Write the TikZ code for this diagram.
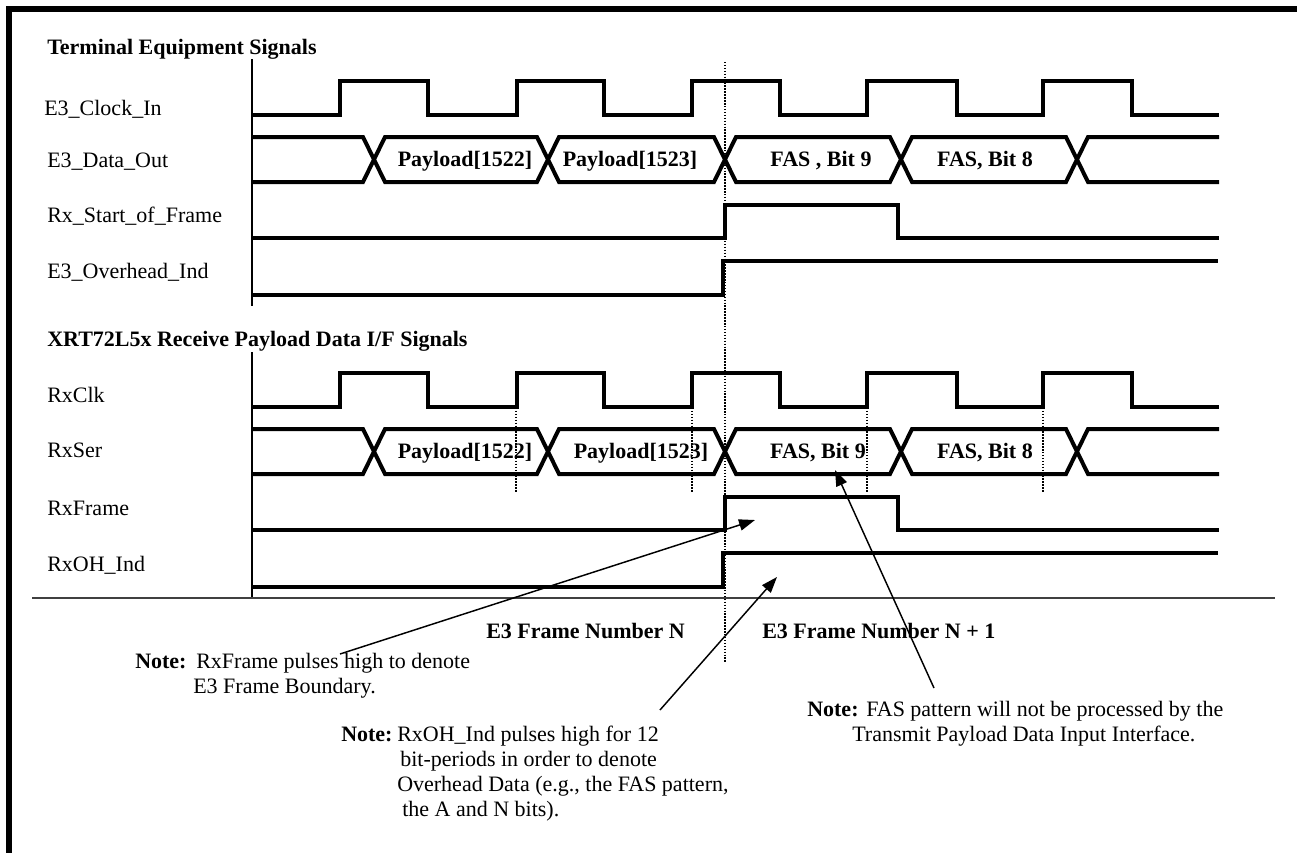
\documentclass[tikz,border=0pt]{standalone}
\usepackage{fontspec}
\setmainfont{Liberation Serif}
\usetikzlibrary{arrows.meta}
\newcommand\myfs{\fontsize{16.5pt}{19pt}\selectfont}
\newcommand\drawwaves{%
  \draw[wave] (253,115) -- (340,115) -- (340,81) -- (428,81) -- (428,115) -- (517,115) -- (517,81) -- (604,81) -- (604,115) -- (692,115) -- (692,81) -- (780,81) -- (780,115) -- (867,115) -- (867,81) -- (957,81) -- (957,115) -- (1043,115) -- (1043,81) -- (1132,81) -- (1132,115) -- (1219,115);
  \draw[wave] (253,137) -- (363,137) -- (385,182) -- (537,182) -- (559,137) -- (714,137) -- (736,182) -- (890,182) -- (912,137) -- (1066,137) -- (1088,182) -- (1219,182);
  \draw[wave] (253,182) -- (363,182) -- (385,137) -- (537,137) -- (559,182) -- (714,182) -- (736,137) -- (890,137) -- (912,182) -- (1066,182) -- (1088,137) -- (1219,137);
  \draw[wave] (253,238) -- (725,238) -- (725,205) -- (898,205) -- (898,238) -- (1219,238);
  \draw[wave] (253,295) -- (723,295) -- (723,261) -- (1218,261);
}
\begin{document}
\begin{tikzpicture}[x=0.75pt,y=-0.75pt,
  wave/.style={line width=3pt, line join=miter},
  axisline/.style={line width=1.1pt},
  lbl/.style={anchor=base west, inner sep=0pt, font=\myfs},
  blbl/.style={anchor=base west, inner sep=0pt, font=\myfs\bfseries},
  dlbl/.style={anchor=base, inner sep=0pt, font=\myfs\bfseries},
  pointer/.style={line width=1.1pt, -{Triangle[length=12pt,width=8.5pt]}},
  dotline/.style={line width=1.1pt, dash pattern=on 1.1pt off 1.1pt}]
\useasboundingbox (0,0) rectangle (1297,853);
% frame
\draw[line width=4.5pt] (9,853) -- (9,9) -- (1297,9);
% axes
\draw[axisline] (252,59) -- (252,306);
\draw[axisline] (252,352) -- (252,598);
\draw[line width=1.3pt, black!75] (32,598) -- (1275,598);
% headings
\node[blbl] (h1) at (47,54) {Terminal Equipment Signals};
\node[blbl] (h2) at (47,346) {XRT72L5x Receive Payload Data I/F Signals};
% signal names
\node[lbl] (n1) at (44,115) {E3\_Clock\_In};
\node[lbl] (n2) at (47,167) {E3\_Data\_Out};
\node[lbl] (n3) at (47,222) {Rx\_Start\_of\_Frame};
\node[lbl] (n4) at (47,278) {E3\_Overhead\_Ind};
\node[lbl] (n5) at (47,402) {RxClk};
\node[lbl] (n6) at (47,457) {RxSer};
\node[lbl] (n7) at (47,515) {RxFrame};
\node[lbl] (n8) at (47,571) {RxOH\_Ind};
% waveforms
\drawwaves
\begin{scope}[shift={(0,292)}]
\drawwaves
\end{scope}
% bus labels
\node[dlbl] (a1) at (465,166) {Payload[1522]};
\node[dlbl] (a2) at (630,166) {Payload[1523]};
\node[dlbl] (a3) at (821,166) {FAS , Bit 9};
\node[dlbl] (a4) at (985,166) {FAS, Bit 8};
\node[dlbl] (b1) at (465,458) {Payload[1522]};
\node[dlbl] (b2) at (641,458) {Payload[1523]};
\node[dlbl] (b3) at (818,458) {FAS, Bit 9};
\node[dlbl] (b4) at (985,458) {FAS, Bit 8};
% dotted lines
\draw[dotline] (725,62) -- (725,663);
\foreach \xx in {516,692,867,1043} \draw[dotline] (\xx,408) -- (\xx,493);
% frame numbers
\node[blbl] (f1) at (486,638) {E3 Frame Number N};
\node[blbl] (f2) at (762,638) {E3 Frame Number N + 1};
% notes
\node[blbl] (k1) at (135,668) {Note:};
\node[lbl] (k1a) at (196,668) {RxFrame pulses high to denote};
\node[lbl] (k1b) at (193,693) {E3 Frame Boundary.};
\node[blbl] (k2) at (341,741) {Note:};
\node[lbl] (k2a) at (397,741) {RxOH\_Ind pulses high for 12};
\node[lbl] (k2b) at (400,766) {bit-periods in order to denote};
\node[lbl] (k2c) at (397,791) {Overhead Data (e.g., the FAS pattern,};
\node[lbl] (k2d) at (402,816) {the A and N bits).};
\node[blbl] (k3) at (807,716) {Note:};
\node[lbl] (k3a) at (866,716) {FAS pattern will not be processed by the};
\node[lbl] (k3b) at (852,741) {Transmit Payload Data Input Interface.};
% pointers
\coordinate (s1) at (340,654);
\coordinate (t1) at (755,520);
\coordinate (s2) at (660,710);
\coordinate (t2) at (777,577);
\coordinate (s3) at (934,688);
\coordinate (t3) at (835,470);
\draw[pointer] (s1) -- (t1);
\draw[pointer] (s2) -- (t2);
\draw[pointer] (s3) -- (t3);
\end{tikzpicture}
\end{document}
